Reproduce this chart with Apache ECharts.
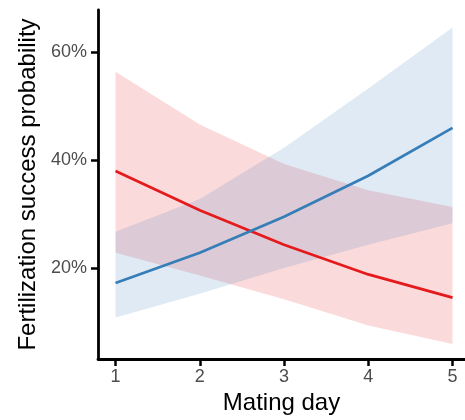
<!DOCTYPE html>
<html>
<head>
<meta charset="utf-8">
<script src="https://cdn.jsdelivr.net/npm/echarts@6/dist/echarts.min.js"></script>
<style>
  html, body { margin: 0; padding: 0; background: #fff; }
  #chart { width: 465px; height: 420px; }
</style>
</head>
<body>
<div id="chart"></div>
<script type="application/javascript">
// mating day and fitted probabilities
const days = [1, 2, 3, 4, 5];
const redFit = [0.380, 0.307, 0.243, 0.188, 0.145];
const redLow = [0.228, 0.186, 0.142, 0.093, 0.059];
const redHigh = [0.564, 0.466, 0.393, 0.344, 0.313];
const blueFit = [0.172, 0.228, 0.295, 0.371, 0.460];
const blueLow = [0.108, 0.152, 0.200, 0.243, 0.283];
const blueHigh = [0.267, 0.328, 0.423, 0.533, 0.646];
const xTicks = [1, 2, 3, 4, 5];
const yTicks = [0.2, 0.4, 0.6];

const RED = '#E41A1C';
const BLUE = '#377EB8';
const FONT = 'Liberation Sans';

const pairs = (ys) => days.map((d, i) => [d, ys[i]]);

// confidence band drawn as one polygon, points placed through the axes
function ribbon(name, lo, hi, color) {
  return {
    name, type: 'custom', silent: true, z: 1,
    data: [[days[0], lo[0]]],
    renderItem(params, api) {
      const top = days.map((d, i) => api.coord([d, hi[i]]));
      const bottom = days.map((d, i) => api.coord([d, lo[i]])).reverse();
      return {
        type: 'polygon',
        shape: { points: top.concat(bottom) },
        style: { fill: color, opacity: 0.16 }
      };
    }
  };
}

function fitLine(name, ys, color) {
  return {
    name, type: 'line', data: pairs(ys), symbol: 'none',
    lineStyle: { color, width: 2.7 }, z: 5
  };
}

const chart = echarts.init(document.getElementById('chart'));
chart.setOption({
  animation: false,
  grid: { left: 98, right: 0, top: 10, bottom: 57, containLabel: false },
  xAxis: {
    type: 'value', min: 0.792, max: 5.148,
    name: 'Mating day', nameLocation: 'middle', nameGap: 32,
    nameTextStyle: { fontFamily: FONT, fontSize: 24, color: '#000' },
    axisLine: { show: true, onZero: false, lineStyle: { color: '#000', width: 2.8 } },
    axisTick: { show: true, length: 7, customValues: xTicks, lineStyle: { color: '#000', width: 2.5 } },
    axisLabel: { customValues: xTicks, fontFamily: FONT, fontSize: 18, color: '#4D4D4D', margin: 9 },
    splitLine: { show: false }
  },
  yAxis: {
    type: 'value', min: 0.031, max: 0.6787,
    name: 'Fertilization success probability', nameLocation: 'middle', nameGap: 55,
    nameTextStyle: { fontFamily: FONT, fontSize: 24, color: '#000' },
    axisLine: { show: true, onZero: false, lineStyle: { color: '#000', width: 2.8 } },
    axisTick: { show: true, length: 7, customValues: yTicks, lineStyle: { color: '#000', width: 2.5 } },
    axisLabel: {
      customValues: yTicks, fontFamily: FONT, fontSize: 18, color: '#4D4D4D', margin: 11,
      formatter: (v) => Math.round(v * 100) + '%'
    },
    splitLine: { show: false }
  },
  series: [
    ribbon('redBand', redLow, redHigh, RED),
    ribbon('blueBand', blueLow, blueHigh, BLUE),
    fitLine('red', redFit, RED),
    fitLine('blue', blueFit, BLUE)
  ]
});
</script>
</body>
</html>
